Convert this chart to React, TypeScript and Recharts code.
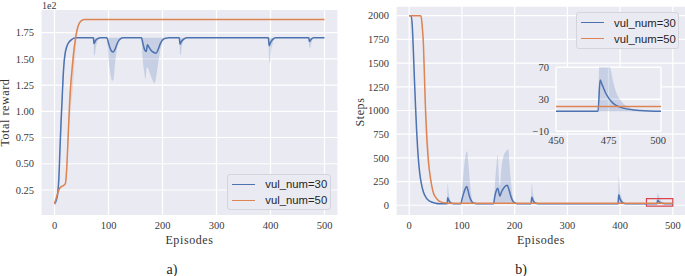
import React from 'react';
import { ComposedChart, Line, Area, XAxis, YAxis, CartesianGrid, ReferenceArea } from 'recharts';

// ---- data ----
const episodeTicks = [0, 100, 200, 300, 400, 500];
const rewardTicks = [0.25, 0.5, 0.75, 1.0, 1.25, 1.5, 1.75];
const stepTicks = [0, 250, 500, 750, 1000, 1250, 1500, 1750, 2000];
const insetXTicks = [450, 475, 500];
const insetYTicks = [-10, 30, 70];

// total reward (x1e2), [episode, mean]
const reward30: [number, number][] = [
  [0, 0.12], [3, 0.15], [6, 0.22], [8, 0.35], [10, 0.62], [12, 0.88], [14, 1.1], [16, 1.33], [18, 1.48], [20, 1.56],
  [23, 1.62], [27, 1.66], [32, 1.685], [40, 1.7],
  [72, 1.7], [73, 1.645], [76, 1.675], [80, 1.692], [86, 1.7],
  [97, 1.7], [100, 1.65], [103, 1.6], [106, 1.57], [109, 1.565], [112, 1.59], [115, 1.63], [118, 1.665], [122, 1.69], [127, 1.7],
  [161, 1.7], [164, 1.64], [167, 1.585], [170, 1.57], [172, 1.635], [175, 1.61], [179, 1.58], [184, 1.56], [188, 1.553],
  [192, 1.59], [196, 1.645], [200, 1.68], [206, 1.697], [212, 1.7],
  [231, 1.7], [232.5, 1.64], [235, 1.665], [240, 1.69], [246, 1.7],
  [396, 1.7], [397.5, 1.625], [400, 1.655], [404, 1.685], [410, 1.7],
  [471, 1.7], [472, 1.665], [475, 1.685], [480, 1.7], [500, 1.7],
];

// [episode, low, high]
const reward30Band: [number, number, number][] = [
  [0, 0.1, 0.14], [3, 0.12, 0.18], [6, 0.18, 0.26], [8, 0.28, 0.42], [10, 0.5, 0.74], [12, 0.78, 0.98], [14, 1.0, 1.2],
  [16, 1.25, 1.4], [18, 1.42, 1.53], [20, 1.52, 1.6], [23, 1.6, 1.64], [27, 1.65, 1.67], [32, 1.68, 1.69], [40, 1.7, 1.7],
  [72, 1.7, 1.7], [73, 1.55, 1.7], [74, 1.53, 1.7], [77, 1.62, 1.7], [81, 1.68, 1.7], [86, 1.7, 1.7],
  [97, 1.7, 1.7], [100, 1.5, 1.7], [104, 1.34, 1.7], [107, 1.29, 1.7], [109, 1.3, 1.7], [112, 1.45, 1.7], [115, 1.58, 1.7],
  [119, 1.66, 1.7], [124, 1.695, 1.7], [130, 1.7, 1.7],
  [161, 1.7, 1.7], [163, 1.52, 1.7], [166, 1.38, 1.7], [168.5, 1.31, 1.7], [171, 1.42, 1.7], [174, 1.4, 1.7], [178, 1.34, 1.7],
  [182, 1.29, 1.7], [185, 1.265, 1.7], [188, 1.32, 1.7], [191, 1.42, 1.7], [195, 1.56, 1.7], [199, 1.64, 1.7], [204, 1.69, 1.7],
  [210, 1.7, 1.7],
  [231, 1.7, 1.7], [232.5, 1.55, 1.7], [233.5, 1.535, 1.7], [236, 1.63, 1.7], [242, 1.69, 1.7], [248, 1.7, 1.7],
  [396, 1.7, 1.7], [397.5, 1.47, 1.7], [398.5, 1.46, 1.7], [401, 1.57, 1.7], [405, 1.66, 1.7], [411, 1.7, 1.7],
  [471, 1.7, 1.7], [472, 1.61, 1.7], [473, 1.6, 1.7], [476, 1.66, 1.7], [481, 1.7, 1.7], [500, 1.7, 1.7],
];

const reward50: [number, number][] = [
  [0, 0.12], [3, 0.17], [6, 0.22], [9, 0.26], [12, 0.28], [16, 0.29], [20, 0.31], [22, 0.4], [24, 0.6], [26, 0.85],
  [28, 1.08], [30, 1.25], [32, 1.37], [34, 1.48], [36, 1.58], [38, 1.66], [40, 1.73], [43, 1.8], [46, 1.84], [50, 1.865],
  [56, 1.875], [500, 1.875],
];

const reward50Band: [number, number, number][] = [
  [20, 0.3, 0.32], [22, 0.33, 0.45], [26, 0.72, 0.95], [30, 1.02, 1.32], [34, 1.22, 1.56], [36, 1.36, 1.63],
  [40, 1.64, 1.76], [45, 1.8, 1.84], [50, 1.86, 1.87], [56, 1.875, 1.875],
];

// steps, [episode, mean]
const steps30: [number, number][] = [
  [0, 2000], [4, 2000], [6, 1880], [8, 1620], [10, 1320], [12, 1050], [14, 800], [16, 600], [18, 450], [20, 340],
  [23, 230], [27, 140], [32, 80], [40, 40], [50, 22], [60, 16], [70, 15],
  [72, 15], [73, 80], [75, 55], [78, 30], [82, 18], [88, 15],
  [98, 15], [100, 60], [103, 120], [106, 170], [109, 198], [111, 170], [114, 100], [117, 55], [120, 30], [125, 18], [132, 15],
  [160, 15], [162, 80], [165, 150], [168, 180], [170, 140], [172, 95], [175, 140], [179, 180], [183, 205], [186, 210],
  [189, 170], [192, 110], [195, 60], [199, 30], [205, 17], [212, 15],
  [231, 15], [232.5, 85], [235, 50], [239, 25], [245, 16], [252, 15],
  [396, 15], [397.5, 110], [400, 65], [404, 30], [410, 17], [418, 15],
  [470, 15], [471, 54], [472, 48], [474, 36], [477, 25.5], [482, 19], [490, 16], [500, 15],
];

const steps30Band: [number, number, number][] = [
  [0, 2000, 2000], [4, 2000, 2000], [6, 1850, 1910], [8, 1580, 1660], [10, 1270, 1370], [12, 1000, 1100], [14, 760, 840],
  [16, 570, 630], [18, 420, 480], [20, 320, 360], [23, 215, 245], [27, 130, 150], [32, 75, 85], [40, 38, 42], [50, 21, 23],
  [60, 15, 17], [70, 15, 15],
  [72, 15, 15], [73, 15, 230], [75, 15, 130], [78, 15, 50], [82, 15, 20], [88, 15, 15],
  [98, 15, 15], [101, 15, 200], [104, 15, 400], [107, 15, 530], [110, 15, 570], [112, 15, 450], [115, 15, 250],
  [118, 15, 100], [122, 15, 30], [128, 15, 15],
  [160, 15, 15], [163, 15, 250], [166, 15, 450], [168, 15, 530], [170, 15, 300], [172, 15, 200], [175, 15, 400],
  [179, 15, 520], [184, 15, 570], [188, 15, 590], [190, 15, 450], [193, 15, 250], [196, 15, 100], [200, 15, 30], [206, 15, 15],
  [231, 15, 15], [232.5, 15, 230], [235, 15, 120], [239, 15, 40], [245, 15, 18], [252, 15, 15],
  [396, 15, 15], [397.5, 15, 310], [400, 15, 170], [404, 15, 60], [410, 15, 20], [418, 15, 15],
  [470, 15, 15], [471, 15, 130], [472, 15, 120], [474, 15, 95], [476, 15, 68], [478, 15, 44], [481, 15, 28],
  [488, 15, 17], [495, 15, 15.5], [500, 15, 15],
];

const steps50: [number, number][] = [
  [0, 2000], [22, 2000], [23, 1980], [25, 1870], [27, 1700], [29, 1350], [31, 1000], [33, 750], [35, 570], [37, 430],
  [40, 300], [43, 200], [46, 130], [50, 85], [55, 52], [60, 36], [66, 27], [75, 22], [500, 21],
];

const steps50Band: [number, number, number][] = [
  [22, 2000, 2000], [25, 1860, 1880], [28, 1450, 1600], [31, 950, 1150], [34, 600, 870], [37, 400, 600], [40, 270, 360],
  [45, 140, 170], [50, 80, 90], [55, 52, 52],
];

const seriesNames = ['vul_num=30', 'vul_num=50'];

// ---- styling ----
const BLUE = '#4C72B0';
const ORANGE = '#DD8452';
const BG = '#EAEAF2';
const SERIF = '"Liberation Serif", "Times New Roman", serif';
const SANS = '"Liberation Sans", Arial, sans-serif';
const tickStyle = { fontFamily: SERIF, fontSize: 10.5, fill: '#3a3a3a' };

const toLine = (pts: [number, number][]) => pts.map(([ep, v]) => ({ ep, v }));
const toBand = (pts: [number, number, number][]) => pts.map(([ep, lo, hi]) => ({ ep, range: [lo, hi] }));

const AxisText = ({ cx, cy, text, rotate }: any) => (
  <text
    x={cx}
    y={cy}
    textAnchor="middle"
    dominantBaseline="central"
    transform={rotate ? `rotate(-90 ${cx} ${cy})` : undefined}
    fontFamily={SERIF}
    fontSize={12}
    letterSpacing={0.6}
    fill="#333"
  >
    {text}
  </text>
);

const LegendBox = ({ left, top, width, height, rowY }: any) => (
  <div
    style={{
      position: 'absolute', left, top, width, height, boxSizing: 'border-box',
      background: BG, border: '1px solid #d4d4dc', borderRadius: 3,
    }}
  >
    {seriesNames.map((name, i) => (
      <div key={name} style={{ position: 'absolute', left: 0, top: rowY[i] - 8, height: 16, width: '100%' }}>
        <div style={{ position: 'absolute', left: 4, top: 7.3, width: 23, height: 1.5, background: i === 0 ? BLUE : ORANGE }} />
        <div style={{ position: 'absolute', left: 37, top: 0, lineHeight: '16px', fontFamily: SANS, fontSize: 11.3, color: '#262626' }}>
          {name}
        </div>
      </div>
    ))}
  </div>
);

function bands(b30: any[], b50: any[]) {
  return [
    <Area key="b30" data={b30} dataKey="range" type="monotone" stroke="none" fill={BLUE} fillOpacity={0.22} isAnimationActive={false} />,
    <Area key="b50" data={b50} dataKey="range" type="monotone" stroke="none" fill={ORANGE} fillOpacity={0.22} isAnimationActive={false} />,
  ];
}

function lines(l30: any[], l50: any[]) {
  return [
    <Line key="l30" data={l30} dataKey="v" type="monotone" stroke={BLUE} strokeWidth={1.5} dot={false} isAnimationActive={false} />,
    <Line key="l50" data={l50} dataKey="v" type="monotone" stroke={ORANGE} strokeWidth={1.5} dot={false} isAnimationActive={false} />,
  ];
}

export default function App() {
  const r30 = toLine(reward30);
  const r50 = toLine(reward50);
  const rb30 = toBand(reward30Band);
  const rb50 = toBand(reward50Band);
  const s30 = toLine(steps30);
  const s50 = toLine(steps50);
  const sb30 = toBand(steps30Band);
  const sb50 = toBand(steps50Band);

  return (
    <div style={{ position: 'absolute', left: 0, top: 0, width: 685, height: 276, overflow: 'hidden', background: '#fff' }}>
      {/* a) total reward */}
      <div style={{ position: 'absolute', left: 0, top: 0 }}>
        <ComposedChart width={340} height={276} margin={{ top: 9.5, right: 2, bottom: 0, left: 0 }}>
          <CartesianGrid fill={BG} stroke="#fff" strokeWidth={1.2} />
          <XAxis
            type="number" dataKey="ep" domain={[-25, 525]} ticks={episodeTicks} allowDataOverflow
            tickLine={false} axisLine={false} tickSize={0} tickMargin={6} tick={tickStyle} height={60.3}
            label={<AxisText cx={189.5} cy={239.5} text="Episodes" />}
          />
          <YAxis
            type="number" domain={[0.005, 1.97]} ticks={rewardTicks} allowDataOverflow
            tickFormatter={(v: number) => v.toFixed(2)}
            tickLine={false} axisLine={false} tickSize={0} tickMargin={7} tick={tickStyle} width={41}
            label={<AxisText cx={5.5} cy={112.6} text="Total reward" rotate />}
          />
          {bands(rb30, rb50)}
          {lines(r30, r50)}
        </ComposedChart>
      </div>

      {/* b) steps */}
      <div style={{ position: 'absolute', left: 340, top: 0 }}>
        <ComposedChart width={346} height={276} margin={{ top: 6.2, right: 0, bottom: 0, left: 0 }}>
          <CartesianGrid fill={BG} stroke="#fff" strokeWidth={1.2} />
          <XAxis
            type="number" dataKey="ep" domain={[-25, 525]} ticks={episodeTicks} allowDataOverflow
            tickLine={false} axisLine={false} tickSize={0} tickMargin={6} tick={tickStyle} height={60.3}
            label={<AxisText cx={201} cy={239.5} text="Episodes" />}
          />
          <YAxis
            type="number" domain={[-110, 2100]} ticks={stepTicks} allowDataOverflow
            tickLine={false} axisLine={false} tickSize={0} tickMargin={7} tick={tickStyle} width={56}
            label={<AxisText cx={20} cy={112} text="Steps" rotate />}
          />
          {bands(sb30, sb50)}
          {lines(s30, s50)}
          <ReferenceArea x1={450} x2={500} y1={-10} y2={70} fill="none" stroke="#d9434a" strokeWidth={1.2} ifOverflow="visible" />
        </ComposedChart>
      </div>

      {/* inset zoom of 450-500 */}
      <div style={{ position: 'absolute', left: 520, top: 60 }}>
        <ComposedChart width={146} height={92} margin={{ top: 7.3, right: 5, bottom: 0, left: 0 }}>
          <CartesianGrid fill={BG} fillOpacity={1} stroke="#fff" strokeWidth={1.4} />
          <XAxis
            type="number" dataKey="ep" domain={[450, 500]} ticks={insetXTicks} allowDataOverflow
            tickLine={false} axisLine={false} tickSize={0} tickMargin={5} tick={tickStyle} height={20.7}
          />
          <YAxis
            type="number" domain={[-10, 70]} ticks={insetYTicks} allowDataOverflow
            tickFormatter={(v: number) => (v < 0 ? '\u2212' + Math.abs(v) : String(v))}
            tickLine={false} axisLine={false} tickSize={0} tickMargin={7} tick={tickStyle} width={36}
          />
          {bands(sb30, sb50)}
          {lines(s30, s50)}
        </ComposedChart>
      </div>

      <LegendBox left={227.3} top={174.3} width={104} height={36} rowY={[9, 25]} />
      <LegendBox left={576} top={11.7} width={102.5} height={37.3} rowY={[10, 26]} />

      <svg width={685} height={276} style={{ position: 'absolute', left: 0, top: 0, pointerEvents: 'none' }}>
        <text x={42} y={8.5} fontFamily={SERIF} fontSize={10} fill="#3a3a3a">1e2</text>
        <text x={172} y={273.5} textAnchor="middle" fontFamily={SERIF} fontSize={14} fill="#222">a)</text>
        <text x={521} y={273.5} textAnchor="middle" fontFamily={SERIF} fontSize={14} fill="#222">b)</text>
      </svg>
    </div>
  );
}
